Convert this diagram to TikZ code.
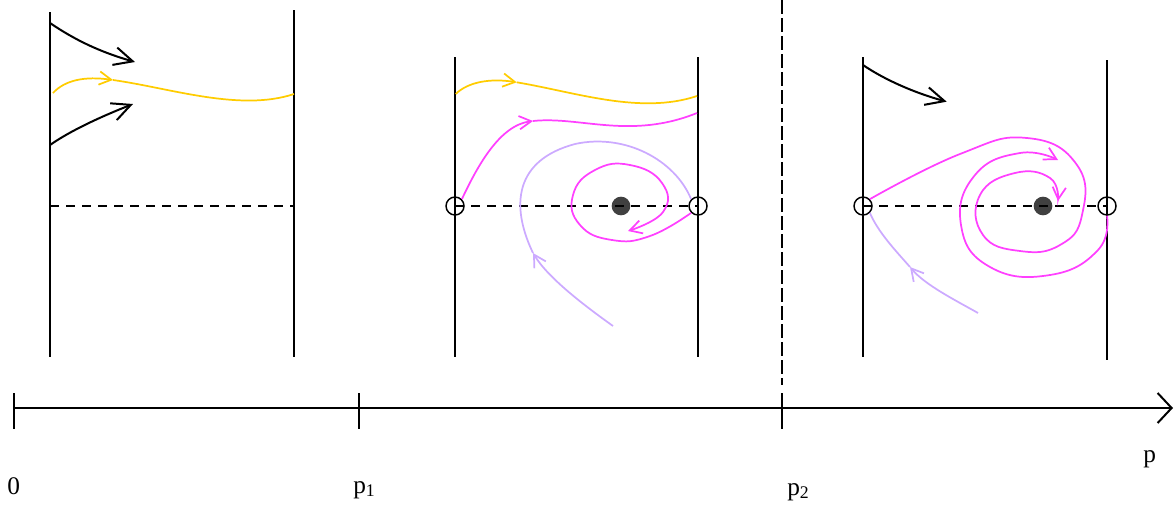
\documentclass[tikz,border=0pt]{standalone}
\usepackage{fontspec}
\setmainfont{Liberation Serif}
\usepackage{tikz}
\usetikzlibrary{arrows.meta}
\definecolor{flowyellow}{RGB}{255,204,0}
\definecolor{flowpink}{RGB}{255,64,255}
\definecolor{flowlilac}{RGB}{204,170,255}
\definecolor{dotgray}{RGB}{64,64,64}
\tikzset{
	wall/.style={line width=1.5pt, black}
}
\tikzset{
	sepline/.style={line width=1.5pt, dash pattern=on 7pt off 5pt}
}
\tikzset{
	bigtip/.style={-{Straight Barb[length=14pt, width=13.5pt]}},
	smalltip/.style={-{Straight Barb[length=9pt, width=10pt]}},
	orbit/.style={line width=1.3pt}
}
\tikzset{
	saddle/.style={circle, draw, line width=1.1pt, minimum size=13.5pt, inner sep=0pt},
	focus/.style={circle, fill=dotgray, minimum size=14pt, inner sep=0pt},
	axislabel/.style={font=\fontsize{19}{22}\selectfont, inner sep=0pt, anchor=base west}
}

\begin{document}
\begin{tikzpicture}[x=0.75pt, y=-0.75pt]
      \useasboundingbox (0,0) rectangle (1176,504);
      % first strip: no equilibria inside
      \draw[wall] (50,12) -- (50,357);
      \draw[wall] (294,10) -- (294,357);
      \draw[sepline] (50,206) -- (294,206);
      \draw[wall, bigtip] (50,23) .. controls (75,40) and (100,52) .. (135,62);
      \draw[wall, bigtip] (50,145) .. controls (70,131) and (100,117) .. (133,104);
      \draw[orbit, flowyellow, smalltip] (53,93) .. controls (65,80) and (85,76) .. (113,80);
      \draw[orbit, flowyellow] (113,80) .. controls (170,88) and (240,112) .. (294,94);

      % second strip: saddles and a focus
      \draw[wall] (455,57) -- (455,357);
      \draw[wall] (698,57) -- (698,357);
      \node[focus] (f1) at (621,206) {};
      \node[saddle] (s1) at (455,206) {};
      \node[saddle] (s2) at (698,206) {};
      \draw[sepline] (s1.center) -- (s2.center);
      \draw[orbit, flowyellow, smalltip] (455.7,94) .. controls (468,82) and (490,78) .. (516.7,82.3);
      \draw[orbit, flowyellow] (516.7,82.3) .. controls (575,92) and (640,115) .. (697,96);
      \draw[orbit, flowpink, smalltip] (s1.north east) .. controls (478,165) and (500,125) .. (533,121);
      \draw[orbit, flowpink] (533,121) .. controls (580,116) and (630,140) .. (697,113);
      \draw[orbit, flowlilac, smalltip] (613,326) .. controls (585,306) and (548,278) .. (533,253);
      \draw[orbit, flowlilac] (533,253) .. controls (510,205) and (515,160) .. (575,144)
        .. controls (625,133) and (675,160) .. (s2.north west);
      \draw[orbit, flowpink, smalltip] plot[smooth, tension=0.8] coordinates {(s2.south west) (650,236) (612,240) (580,225) (573,195) (595,170) (630,165) (662,183) (663,212) (628,231)};

      % third strip
      \draw[wall] (863,57) -- (863,357);
      \draw[wall] (1107,60) -- (1107,360);
      \node[focus] (f2) at (1043,206) {};
      \node[saddle] (s3) at (863,206) {};
      \node[saddle] (s4) at (1107,206) {};
      \draw[sepline] (s3.center) -- (s4.center);
      \draw[wall, bigtip] (863,65) .. controls (885,80) and (915,93) .. (946.7,101.7);
      \draw[orbit, flowlilac, smalltip] (978,313) .. controls (955,300) and (925,285) .. (910,267);
      \draw[orbit, flowlilac] (910,267) .. controls (895,250) and (878,232) .. (s3.south east);
      \draw[orbit, flowpink, smalltip] plot[smooth, tension=0.8] coordinates {(s3.north east) (960,154) (1027,138) (1077,165) (1082,215) (1060,245) (1020,251) (983,235) (980,195) (1015,173) (1050,178) (1058,201)};
      \draw[orbit, flowpink, smalltip] plot[smooth, tension=0.8] coordinates {(s4.south) (1098,250) (1050,275) (990,267) (961,225) (975,175) (1020,153) (1058,160)};

      % parameter axis
      \draw[wall, -{Straight Barb[length=10.5pt, width=22.5pt]}] (14,408) -- (1173,408);
      \draw[wall] (14,393) -- (14,429);
      \draw[wall] (359,393) -- (359,429);
      \draw[wall] (782,393) -- (782,429);
      \draw[line width=1pt, dash pattern=on 10.5pt off 3pt] (782,0) -- (782,385);
      \node[axislabel] (l0) at (7,494) {0};
      \node[axislabel] (l1) at (353,493) {p\textsubscript{1}};
      \node[axislabel] (l2) at (787,495) {p\textsubscript{2}};
      \node[axislabel] (lp) at (1143,462) {p};
    \end{tikzpicture}
\end{document}
